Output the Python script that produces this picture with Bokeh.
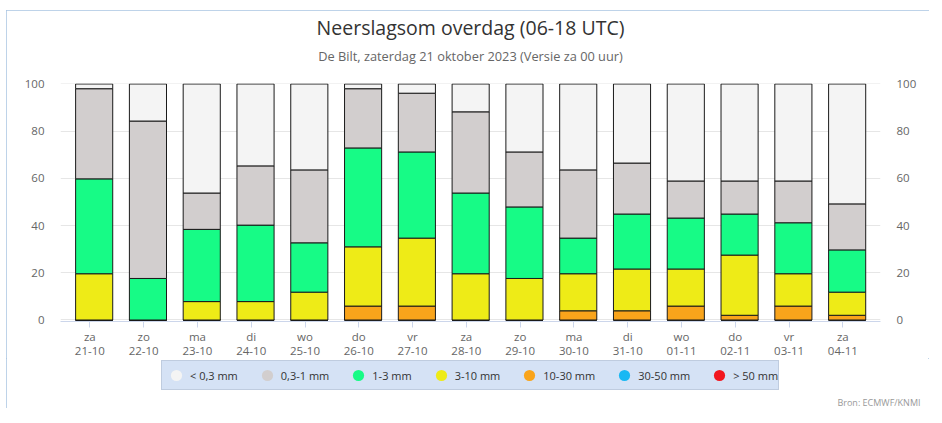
from bokeh.plotting import figure
from bokeh.layouts import column
from bokeh.models import (Range1d, FixedTicker, LinearAxis, Legend, LegendItem,
                          Title, ColumnDataSource)
from bokeh.transform import dodge
from bokeh.embed import file_html
from bokeh.resources import INLINE

# ---- data -------------------------------------------------------------
days = ["za", "zo", "ma", "di", "wo", "do", "vr", "za", "zo", "ma", "di", "wo", "do", "vr", "za"]
dates = ["21-10", "22-10", "23-10", "24-10", "25-10", "26-10", "27-10", "28-10",
         "29-10", "30-10", "31-10", "01-11", "02-11", "03-11", "04-11"]

gt50 = [0, 0, 0, 0, 0, 0, 0, 0, 0, 0, 0, 0, 0, 0, 0]
mm30_50 = [0, 0, 0, 0, 0, 0, 0, 0, 0, 0, 0, 0, 0, 0, 0]
mm10_30 = [0, 0, 0, 0, 0, 5.9, 5.9, 0, 0, 3.9, 3.9, 5.9, 2.0, 5.9, 2.0]
mm3_10 = [19.6, 0, 7.8, 7.8, 11.8, 25.1, 28.8, 19.6, 17.6, 15.7, 17.7, 15.7, 25.5, 13.7, 9.8]
mm1_3 = [40.2, 17.6, 30.6, 32.4, 20.9, 41.9, 36.5, 34.2, 30.3, 15.1, 23.3, 21.6, 17.4, 21.6, 17.9]
mm03_1 = [38.2, 66.7, 15.4, 25.1, 30.9, 25.1, 24.9, 34.4, 23.3, 28.9, 21.6, 15.7, 14.0, 17.7, 19.5]
lt03 = [2.0, 15.7, 46.2, 34.7, 36.4, 2.0, 3.9, 11.8, 28.8, 36.4, 33.5, 41.1, 41.1, 41.1, 50.8]

series_keys = ["gt50", "mm30_50", "mm10_30", "mm3_10", "mm1_3", "mm03_1", "lt03"]
series_labels = ["> 50 mm", "30-50 mm", "10-30 mm", "3-10 mm", "1-3 mm", "0,3-1 mm", "< 0,3 mm"]
series_colors = ["#f2171f", "#19b8f3", "#f9a41b", "#eeeb17", "#17fb86", "#d2cece", "#f4f4f4"]

y_ticks = [0, 20, 40, 60, 80, 100]

title_text = "Neerslagsom overdag (06-18 UTC)"
subtitle_text = "De Bilt, zaterdag 21 oktober 2023 (Versie za 00 uur)"
credits_text = "Bron: ECMWF/KNMI"

FONT = "Open Sans"

x_idx = list(range(len(days)))
source = ColumnDataSource(dict(x=x_idx, gt50=gt50, mm30_50=mm30_50, mm10_30=mm10_30,
                               mm3_10=mm3_10, mm1_3=mm1_3, mm03_1=mm03_1, lt03=lt03))

# ---- main chart ---------------------------------------------------------
p = figure(width=923, height=348,
           min_border_left=54, min_border_right=49, min_border_top=73, min_border_bottom=37,
           x_range=Range1d(-0.546, 14.70), y_range=Range1d(-0.64, 100.21),
           output_backend="svg", toolbar_location=None, tools="")
p.background_fill_color = "white"
p.border_fill_color = "white"
p.outline_line_color = None

p.vbar_stack(series_keys, x=dodge("x", 0.08), width=0.69, source=source,
             fill_color=series_colors, line_color="#1a1a1a", line_width=1)


def spacer(size):
    """An invisible axis that only reserves `size` pixels in a side panel."""
    ax = LinearAxis(ticker=FixedTicker(ticks=[0]))
    ax.major_label_overrides = {0: ""}
    ax.axis_line_color = None
    ax.major_tick_line_color = None
    ax.minor_tick_line_color = None
    ax.major_tick_in = 0
    ax.major_tick_out = size
    ax.major_label_standoff = 0
    ax.major_label_text_font_size = "0px"
    ax.major_label_text_color = None
    return ax


# x axes: weekday row and date row
xa = p.xaxis[0]
xa.ticker = FixedTicker(ticks=x_idx)
xa.major_label_overrides = {i: d for i, d in enumerate(days)}
xa.axis_line_color = "#ccd6eb"
xa.major_tick_line_color = "#ccd6eb"
xa.major_tick_out = 6
xa.major_tick_in = 0
xa.minor_tick_line_color = None
xa.major_label_standoff = 1
xa.major_label_text_font = FONT
xa.major_label_text_font_size = "11.5px"
xa.major_label_text_color = "#666666"

xa2 = LinearAxis(ticker=FixedTicker(ticks=x_idx))
xa2.major_label_overrides = {i: d for i, d in enumerate(dates)}
xa2.axis_line_color = None
xa2.major_tick_line_color = None
xa2.minor_tick_line_color = None
xa2.major_tick_out = 0
xa2.major_tick_in = 0
xa2.major_label_standoff = 0
xa2.major_label_text_font = FONT
xa2.major_label_text_font_size = "11.5px"
xa2.major_label_text_color = "#666666"
p.add_layout(xa2, "below")

ya = p.yaxis[0]
ya.ticker = FixedTicker(ticks=y_ticks)
ya.axis_line_color = None
ya.major_tick_line_color = None
ya.minor_tick_line_color = None
ya.major_label_standoff = 10
ya.major_label_text_font = FONT
ya.major_label_text_font_size = "11.5px"
ya.major_label_text_color = "#666666"

ra = LinearAxis(ticker=FixedTicker(ticks=y_ticks))
ra.axis_line_color = None
ra.major_tick_line_color = None
ra.minor_tick_line_color = None
ra.major_label_standoff = 10
ra.major_label_text_font = FONT
ra.major_label_text_font_size = "11.5px"
ra.major_label_text_color = "#666666"
p.add_layout(ra, "right")

p.xgrid.grid_line_color = None
p.ygrid.grid_line_color = "#e6e6e6"
p.ygrid.ticker = FixedTicker(ticks=y_ticks)

# titles (closest to the plot first)
p.add_layout(spacer(16), "above")
p.add_layout(Title(text=subtitle_text, align="center", standoff=6,
                   text_font=FONT, text_font_size="12.8px", text_font_style="normal",
                   text_color="#666666"), "above")
p.add_layout(Title(text=title_text, align="center", standoff=2,
                   text_font=FONT, text_font_size="19.5px", text_font_style="normal",
                   text_color="#333333"), "above")

# ---- legend strip + credits ---------------------------------------------
p2 = figure(width=923, height=50, x_range=Range1d(0, 1), y_range=Range1d(0, 1),
            min_border_left=0, min_border_right=0, min_border_top=0, min_border_bottom=0,
            x_axis_type=None, y_axis_type=None,
            output_backend="svg", toolbar_location=None, tools="")
p2.outline_line_color = None
p2.background_fill_color = "white"
p2.border_fill_color = "white"

nan = float("nan")
items = []
for key, lab, col in reversed(list(zip(series_keys, series_labels, series_colors))):
    # legend-only renderer: a single not-a-number point, never drawn in the plot
    r = p2.scatter(x=[nan], y=[nan], marker="circle", size=12, fill_color=col, line_color=None)
    items.append(LegendItem(label=lab, renderers=[r]))
legend = Legend(items=items, orientation="horizontal", location=(101, 3),
                glyph_width=28, glyph_height=28, label_standoff=0, spacing=15,
                padding=0, margin=0, label_height=16,
                label_text_font=FONT, label_text_font_size="11px", label_text_color="#333333",
                background_fill_color="#d5e2f5", background_fill_alpha=1,
                border_line_color="#a9b6c9", border_line_width=1)
p2.add_layout(legend, "center")

p2.add_layout(Title(text=credits_text, align="right", offset=-40, standoff=0,
                    text_font=FONT, text_font_size="9px", text_font_style="normal",
                    text_color="#999999"), "below")

layout = column(p, p2, spacing=0)
layout.styles = {"margin-left": "6px", "margin-top": "10px",
                 "outline": "1px solid #a9c4e2", "outline-offset": "-1px"}

open("out.html", "w").write(file_html(layout, INLINE))
